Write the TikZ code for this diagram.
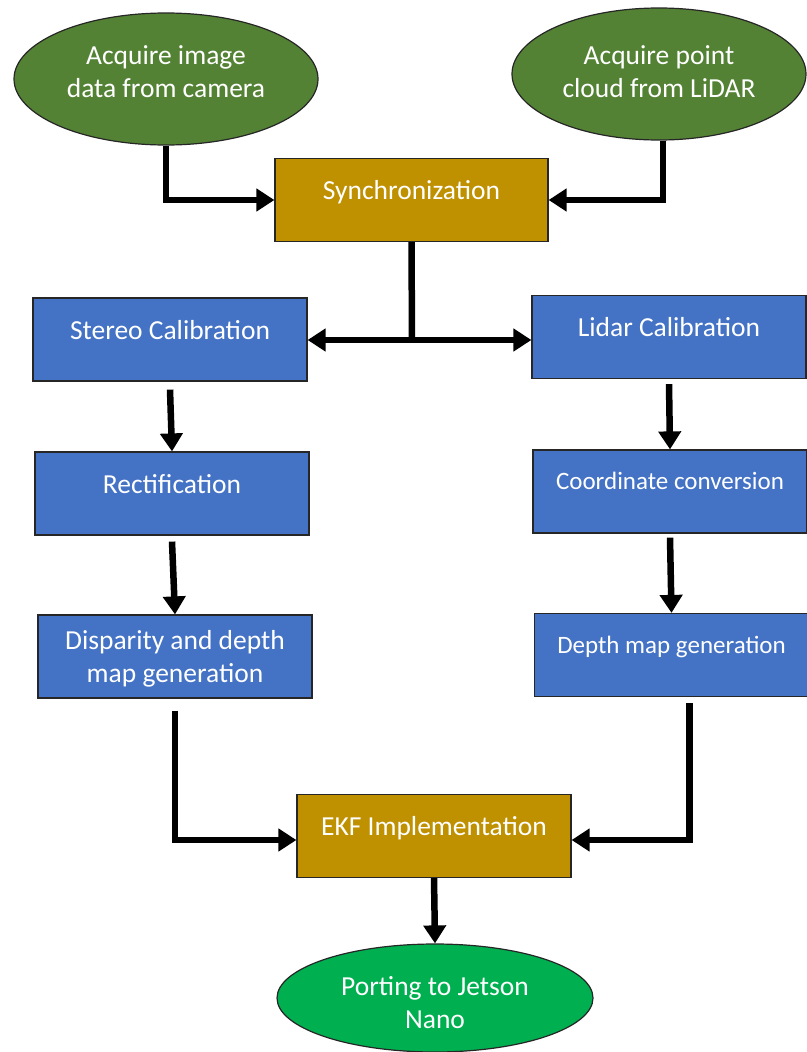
\documentclass[tikz,border=0pt]{standalone}
\usepackage{fontspec}
\setmainfont{Carlito}
\usetikzlibrary{shapes.geometric,arrows.meta,calc}
\definecolor{dgreen}{HTML}{548235}
\definecolor{bgreen}{HTML}{00B050}
\definecolor{gold}{HTML}{BF9000}
\definecolor{bblue}{HTML}{4472C4}
\definecolor{edge}{HTML}{262626}
\begin{document}
\begin{tikzpicture}[x=1pt,y=-1pt,
  every node/.style={text=white, font=\fontsize{27.5}{33}\selectfont},
  ell/.style={ellipse, draw=edge, line width=1.2pt, align=center, inner sep=0pt},
  goldbox/.style={rectangle, draw=edge, line width=1.2pt, fill=gold, minimum width=273pt, minimum height=83pt, text depth=20pt, align=center},
  bluebox/.style={rectangle, draw=edge, line width=1.2pt, fill=bblue, minimum width=274pt, minimum height=83pt, text depth=20pt, align=center},
  conn/.style={line width=6.5pt, draw=black, -{Triangle[length=18pt,width=22pt]}},
  plain/.style={line width=6.5pt, draw=black}
]
\useasboundingbox (0,0) rectangle (806,1052);
\fill[white] (0,0) rectangle (806,1052);

\node[ell, fill=dgreen, minimum width=304pt, minimum height=132pt, text depth=14pt] (cam) at (166,79) {Acquire image\\data from camera};
\node[ell, fill=dgreen, minimum width=294pt, minimum height=132pt, text depth=4pt] (lid) at (659,74) {Acquire point\\cloud from LiDAR};
\node[goldbox] (sync) at (411.5,200) {Synchronization};
\node[bluebox] (stereo) at (170,339.5) {Stereo Calibration};
\node[bluebox] (lcal) at (669,337) {Lidar Calibration};
\node[bluebox] (rect) at (172,493.5) {Rectification};
\node[bluebox, font=\fontsize{25}{33}\selectfont, text depth=22pt] (coord) at (670,491.5) {Coordinate conversion};
\node[bluebox, text depth=0pt] (disp) at (175,656.5) {Disparity and depth\\map generation};
\node[bluebox, font=\fontsize{25}{33}\selectfont] (depth) at (671.5,655) {Depth map generation};
\node[goldbox, minimum width=274pt] (ekf) at (434,836) {EKF Implementation};
\node[ell, fill=bgreen, minimum width=316pt, minimum height=108pt, align=none] (port) at (435,998) {\raisebox{-14pt}[0pt][0pt]{\begin{tabular}{@{}c@{}}Porting to Jetson\\Nano\end{tabular}}};

\coordinate (j) at (412,340);

\draw[conn] (cam.south) |- (sync.west);
\draw[conn] ([xshift=4pt]lid.south) |- (sync.east);
\draw[plain] (sync.south) -- (j);
\draw[conn] (j) -- (j -| stereo.east);
\draw[conn] (j) -- (j -| lcal.west);
\draw[conn] ([yshift=-8pt]stereo.south) -- (rect.north);
\draw[conn] ([yshift=-6pt]rect.south) -- (disp.north);
\draw[conn] ([yshift=-5pt]lcal.south) -- (coord.north);
\draw[conn] ([yshift=-4pt]coord.south) -- (depth.north);
\draw[conn] ([yshift=-12pt]disp.south) |- ([yshift=-4pt]ekf.west);
\draw[conn] ([xshift=18pt,yshift=-6pt]depth.south) |- ([yshift=-4pt]ekf.east);
\draw[conn] (ekf.south) -- (port.north);
\end{tikzpicture}
\end{document}
